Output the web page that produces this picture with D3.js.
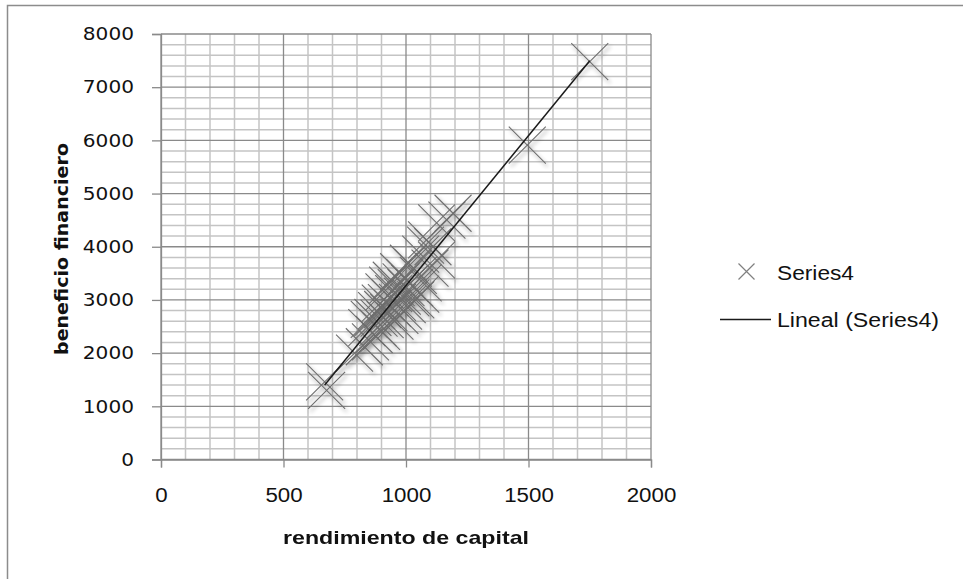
<!DOCTYPE html>
<html>
<head>
<meta charset="utf-8">
<script src="https://cdn.jsdelivr.net/npm/d3@7"></script>
<style>
  html, body { margin: 0; padding: 0; background: #fff; }
  svg { display: block; }
</style>
</head>
<body>
<svg id="chart" width="963" height="579"></svg>
<script>
// ---- data ----
const xValues = [1750, 1495, 668, 676, 790, 1192, 1167, 1125, 1084, 1110, 1098, 1125,
  830, 840, 850, 855, 865, 870, 880, 885, 890, 895, 900, 905, 910, 915, 920, 925, 930,
  935, 940, 945, 950, 955, 960, 965, 970, 975, 980, 985, 990, 995, 1000, 1005, 1010,
  1015, 1020, 1030, 1035, 1040, 1050, 1060, 1070, 1080, 1060];
const yValues = [7480, 5910, 1460, 1300, 2000, 4630, 4500, 4450, 4130, 4000, 3600, 3750,
  2120, 2480, 2635, 2210, 2670, 2350, 2800, 2480, 2660, 2940, 2410, 2820, 3150, 2630, 2950, 3280, 2760,
  3040, 3370, 2840, 3120, 2600, 3230, 2955, 3530, 2710, 3340, 3070, 2790, 3420, 3230, 2910, 3690,
  3310, 3040, 3600, 3230, 3000, 3460, 3860, 3320, 4030, 3110];
const xTicks = [0, 500, 1000, 1500, 2000];
const yTicks = [0, 1000, 2000, 3000, 4000, 5000, 6000, 7000, 8000];
const xMinorStep = 100;
const yMinorStep = 200;
const seriesName = "Series4";
const trendName = "Lineal (Series4)";
const xTitle = "rendimiento de capital";
const yTitle = "beneficio financiero";

const points = xValues.map((x, i) => ({x, y: yValues[i]}));

const svg = d3.select("#chart");
const x = d3.scaleLinear().domain([0, 2000]).range([161, 651]);
const y = d3.scaleLinear().domain([0, 8000]).range([459.5, 34]);

// outer border
svg.append("path").attr("d", "M7.5,579 V5.5 H963").attr("fill", "none")
  .attr("stroke", "#8c8c8c").attr("stroke-width", 1.5);

// shadow filter
const defs = svg.append("defs");
const f = defs.append("filter").attr("id", "sh").attr("x", "-50%").attr("y", "-50%").attr("width", "200%").attr("height", "200%");
f.append("feGaussianBlur").attr("in", "SourceAlpha").attr("stdDeviation", 2.2).attr("result", "b");
f.append("feOffset").attr("in", "b").attr("dx", 2).attr("dy", 3).attr("result", "o");
f.append("feComponentTransfer").attr("in", "o").attr("result", "o2")
  .append("feFuncA").attr("type", "linear").attr("slope", 0.45);
const m = f.append("feMerge");
m.append("feMergeNode").attr("in", "o2");
m.append("feMergeNode").attr("in", "SourceGraphic");

// minor grid
const xMinor = d3.range(0, 2001, xMinorStep).filter(v => v % 500 !== 0);
const yMinor = d3.range(0, 8001, yMinorStep).filter(v => v % 1000 !== 0);
const g = svg.append("g");
g.selectAll(".vx").data(xMinor).join("line")
  .attr("x1", d => x(d)).attr("x2", d => x(d)).attr("y1", y(0)).attr("y2", y(8000))
  .attr("stroke", "#c4c4c4").attr("stroke-width", 1.5);
g.selectAll(".hy").data(yMinor).join("line")
  .attr("x1", x(0)).attr("x2", x(2000)).attr("y1", d => y(d)).attr("y2", d => y(d))
  .attr("stroke", "#c4c4c4").attr("stroke-width", 1.5);
// major grid
g.selectAll(".vX").data(xTicks).join("line")
  .attr("x1", d => x(d)).attr("x2", d => x(d)).attr("y1", y(0)).attr("y2", y(8000))
  .attr("stroke", "#8a8a8a").attr("stroke-width", 1.3);
g.selectAll(".hY").data(yTicks).join("line")
  .attr("x1", x(0)).attr("x2", x(2000)).attr("y1", d => y(d)).attr("y2", d => y(d))
  .attr("stroke", "#8a8a8a").attr("stroke-width", 1.3);

// axes
const xAxis = svg.append("g").attr("transform", `translate(0,${y(0)})`)
  .call(d3.axisBottom(x).tickValues(xTicks).tickSize(8).tickPadding(19).tickFormat(d3.format("d")));
const yAxis = svg.append("g").attr("transform", `translate(${x(0)},0)`)
  .call(d3.axisLeft(y).tickValues(yTicks).tickSize(9).tickPadding(18).tickFormat(d3.format("d")));
[xAxis, yAxis].forEach(a => {
  a.select(".domain").attr("stroke", "#8a8a8a").attr("stroke-width", 1.3);
  a.selectAll(".tick line").attr("stroke", "#8a8a8a").attr("stroke-width", 1.3);
});
xAxis.selectAll(".tick text")
  .attr("y", 42.5).attr("dy", 0)
  .style("font-family", "'Liberation Sans', Arial, sans-serif")
  .style("font-size", "20px").attr("fill", "#111")
  .attr("textLength", d => String(d).length * 12.4).attr("lengthAdjust", "spacingAndGlyphs");
yAxis.selectAll(".tick text")
  .style("font-family", "'DejaVu Sans', Verdana, sans-serif")
  .style("font-size", "18px").attr("fill", "#111")
  .attr("textLength", d => String(d).length * 12.8).attr("lengthAdjust", "spacingAndGlyphs");

// markers
const r = 18.5;
const xPath = `M${-r},${-r}L${r},${r}M${-r},${r}L${r},${-r}`;
svg.append("g").attr("filter", "url(#sh)").selectAll("path").data(points).join("path")
  .attr("transform", d => `translate(${x(d.x)},${y(d.y)})`)
  .attr("d", xPath).attr("fill", "none").attr("stroke", "#6e6e6e").attr("stroke-width", 1.1);

// linear trend (least squares)
const mx = d3.mean(points, d => d.x), my = d3.mean(points, d => d.y);
const slope = d3.sum(points, d => (d.x - mx) * (d.y - my)) / d3.sum(points, d => (d.x - mx) ** 2);
const icpt = my - slope * mx;
const [xmin, xmax] = d3.extent(points, d => d.x);
svg.append("line")
  .attr("x1", x(xmin)).attr("y1", y(icpt + slope * xmin))
  .attr("x2", x(xmax)).attr("y2", y(icpt + slope * xmax))
  .attr("stroke", "#1a1a1a").attr("stroke-width", 1.5);

// titles
svg.append("text").attr("x", 406).attr("y", 544).attr("text-anchor", "middle")
  .attr("font-family", "'Liberation Sans', Arial, sans-serif").attr("font-weight", "bold")
  .attr("font-size", 19).attr("fill", "#111")
  .attr("textLength", 246).attr("lengthAdjust", "spacingAndGlyphs").text(xTitle);
svg.append("text").attr("transform", "translate(68,249) rotate(-90)").attr("text-anchor", "middle")
  .attr("font-family", "'DejaVu Sans', Verdana, sans-serif").attr("font-weight", "bold")
  .attr("font-size", 17).attr("fill", "#111")
  .attr("textLength", 212).attr("lengthAdjust", "spacingAndGlyphs").text(yTitle);

// legend
const lg = svg.append("g");
const lr = 8;
lg.append("path").attr("transform", "translate(746.5,271.5)")
  .attr("d", `M${-lr},${-lr}L${lr},${lr}M${-lr},${lr}L${lr},${-lr}`)
  .attr("stroke", "#808080").attr("stroke-width", 1.2).attr("fill", "none");
lg.append("text").attr("x", 777).attr("y", 280).attr("font-family", "'Liberation Sans', Arial, sans-serif")
  .attr("font-size", 20).attr("fill", "#111")
  .attr("textLength", 77).attr("lengthAdjust", "spacingAndGlyphs").text(seriesName);
lg.append("line").attr("x1", 720).attr("x2", 771).attr("y1", 319.5).attr("y2", 319.5)
  .attr("stroke", "#1a1a1a").attr("stroke-width", 1.5);
lg.append("text").attr("x", 777).attr("y", 327).attr("font-family", "'Liberation Sans', Arial, sans-serif")
  .attr("font-size", 20).attr("fill", "#111")
  .attr("textLength", 162).attr("lengthAdjust", "spacingAndGlyphs").text(trendName);
</script>
</body>
</html>
